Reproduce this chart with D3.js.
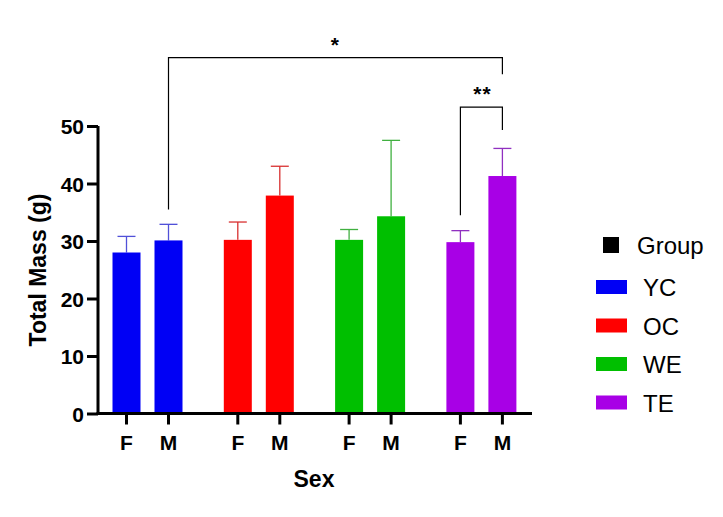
<!DOCTYPE html>
<html>
<head>
<meta charset="utf-8">
<script src="https://cdn.jsdelivr.net/npm/d3@7"></script>
<style>
  body { margin: 0; background: #fff; }
  svg { display: block; font-family: Arial, "Liberation Sans", sans-serif; }
</style>
</head>
<body>
<svg id="chart" width="723" height="517"></svg>
<script>
// data
const groups = ["YC", "OC", "WE", "TE"];
const sexes = ["F", "M"];
const means = [28.0, 30.1, 30.2, 37.9, 30.2, 34.3, 29.8, 41.3];
const errUp = [30.8, 32.9, 33.3, 43.0, 32.0, 47.5, 31.8, 46.1];
const yTicks = [0, 10, 20, 30, 40, 50];
const groupColors = ["#0000f5", "#ff0000", "#00bf00", "#a800e6"];
const errColors = ["#5050d8", "#d83030", "#40b040", "#9030c0"];

const svg = d3.select("#chart");

const y = d3.scaleLinear().domain([0, 50]).range([413.5, 126]);
// each group gets a band, sexes inside it
const xg = d3.scaleBand().domain(groups).range([102.5, 547.7]);
const xs = d3.scalePoint().domain(sexes).range([24, 66]);
const xc = (i) => xg(groups[Math.floor(i / 2)]) + xs(sexes[i % 2]);
const barW = 28;

const bars = means.map((v, i) => ({ v, e: errUp[i], g: Math.floor(i / 2), i }));

// error bars (upper only)
const eb = svg.append("g");
bars.forEach(d => {
  const cx = xc(d.i);
  eb.append("line").attr("x1", cx).attr("x2", cx).attr("y1", y(d.v)).attr("y2", y(d.e))
    .attr("stroke", errColors[d.g]).attr("stroke-width", 1.3);
  eb.append("line").attr("x1", cx - 9).attr("x2", cx + 9).attr("y1", y(d.e)).attr("y2", y(d.e))
    .attr("stroke", errColors[d.g]).attr("stroke-width", 1.3);
});

svg.append("g").selectAll("rect").data(bars).join("rect")
  .attr("x", d => xc(d.i) - barW / 2)
  .attr("width", barW)
  .attr("y", d => y(d.v))
  .attr("height", d => y(0) - y(d.v))
  .attr("fill", d => groupColors[d.g]);

// y axis
const yAxis = svg.append("g").attr("transform", "translate(98,0)")
  .call(d3.axisLeft(y).tickValues(yTicks).tickSize(11).tickPadding(3));
yAxis.select(".domain").attr("stroke-width", 3).attr("d", `M0,${y(50)}V${y(0) + 1.5}`);
yAxis.selectAll(".tick line").attr("stroke-width", 3);
yAxis.selectAll(".tick text").attr("font-size", 21).attr("font-weight", "bold").attr("fill", "#000").attr("dy", "0.36em");

// x axis
const xAxis = svg.append("g").attr("transform", `translate(0,${y(0)})`);
xAxis.append("line").attr("x1", 96.5).attr("x2", 532).attr("y1", 0).attr("y2", 0)
  .attr("stroke", "#000").attr("stroke-width", 3);
bars.forEach(d => {
  const cx = xc(d.i);
  xAxis.append("line").attr("x1", cx).attr("x2", cx).attr("y1", 0).attr("y2", 11)
    .attr("stroke", "#000").attr("stroke-width", 3);
  xAxis.append("text").attr("x", cx).attr("y", 36).attr("text-anchor", "middle")
    .attr("font-size", 21).attr("font-weight", "bold").text(sexes[d.i % 2]);
});

svg.append("text").attr("x", 314).attr("y", 487).attr("text-anchor", "middle")
  .attr("font-size", 23).attr("font-weight", "bold").text("Sex");
svg.append("text").attr("transform", "translate(46,270) rotate(-90)").attr("text-anchor", "middle")
  .attr("font-size", 23).attr("font-weight", "bold").text("Total Mass (g)");

// significance brackets
function bracket(i1, i2, yTop, yL, yR, label, lx) {
  const x1 = xc(i1), x2 = xc(i2);
  svg.append("path")
    .attr("d", `M${x1},${y(yL)}V${y(yTop)}H${x2}V${y(yR)}`)
    .attr("fill", "none").attr("stroke", "#000").attr("stroke-width", 1.2);
  svg.append("text").attr("x", lx).attr("y", y(yTop) - 6).attr("text-anchor", "middle")
    .attr("font-size", 21).attr("font-weight", "bold").attr("letter-spacing", 1).text(label);
}
bracket(1, 7, 61.9, 35.5, 59.0, "*", (xc(1) + xc(7)) / 2);
bracket(6, 7, 53.3, 34.5, 49.3, "**", (xc(6) + xc(7)) / 2 + 1);

// legend
const lg = svg.append("g");
lg.append("rect").attr("x", 603).attr("y", 237).attr("width", 16).attr("height", 16).attr("fill", "#000");
lg.append("text").attr("x", 637).attr("y", 254).attr("font-size", 24).text("Group");
groups.forEach((g, k) => {
  const yy = 280 + k * 38.5;
  lg.append("rect").attr("x", 596).attr("y", yy).attr("width", 31).attr("height", 14).attr("fill", groupColors[k]);
  lg.append("text").attr("x", 643).attr("y", yy + 16).attr("font-size", 24).text(g);
});
</script>
</body>
</html>
